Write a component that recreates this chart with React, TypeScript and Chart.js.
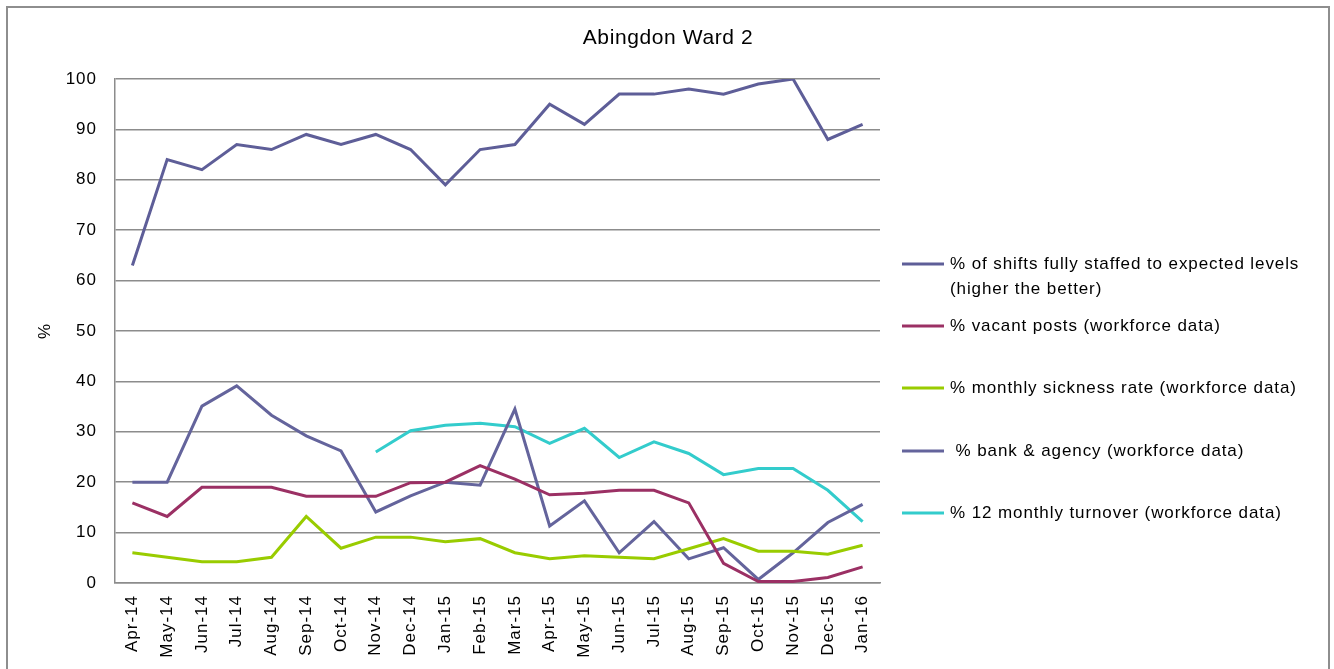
import React, { useEffect, useRef } from "react";
import { Chart, registerables } from "chart.js";

Chart.register(...registerables);

const chartTitle = "Abingdon Ward 2";
const yAxisTitle = "%";

const categories = [
  "Apr-14", "May-14", "Jun-14", "Jul-14", "Aug-14", "Sep-14", "Oct-14", "Nov-14",
  "Dec-14", "Jan-15", "Feb-15", "Mar-15", "Apr-15", "May-15", "Jun-15", "Jul-15",
  "Aug-15", "Sep-15", "Oct-15", "Nov-15", "Dec-15", "Jan-16",
];

const shiftsFullyStaffed = [63, 84, 82, 87, 86, 89, 87, 89, 86, 79, 86, 87, 95, 91, 97, 97, 98, 97, 99, 100, 88, 91];
const vacantPosts = [15.9, 13.2, 19, 19, 19, 17.2, 17.2, 17.2, 19.9, 20, 23.3, 20.6, 17.5, 17.8, 18.4, 18.4, 15.9, 3.9, 0.3, 0.3, 1.1, 3.2];
const sicknessRate = [6, 5.1, 4.2, 4.2, 5.1, 13.2, 6.9, 9.1, 9.1, 8.2, 8.8, 6, 4.8, 5.4, 5.1, 4.8, 6.8, 8.8, 6.3, 6.3, 5.7, 7.5];
const bankAgency = [20, 20, 35.1, 39.1, 33.3, 29.2, 26.2, 14.1, 17.3, 20, 19.4, 34.5, 11.3, 16.3, 6, 12.2, 4.8, 7, 0.7, 6, 12, 15.6];
const turnover = [null, null, null, null, null, null, null, 26, 30.2, 31.3, 31.7, 31, 27.7, 30.7, 24.9, 28, 25.7, 21.5, 22.7, 22.7, 18.4, 12.2];

const yMin = 0;
const yMax = 100;
const yStep = 10;

const seriesLabels = [
  ["% of shifts fully staffed to expected levels", "(higher the better)"],
  ["% vacant posts (workforce data)"],
  ["% monthly sickness rate (workforce data)"],
  [" % bank & agency (workforce data)"],
  ["% 12 monthly turnover (workforce data)"],
];
const seriesColors = ["#5e5e98", "#9b3064", "#99cc00", "#64649c", "#33cccc"];

const FONT = '"Liberation Sans", Arial, sans-serif';
const W = 1334;
const H = 669;

const decorPlugin = {
  id: "decor",
  beforeLayout(chart: any) {
    chart.ctx.letterSpacing = "1px";
  },
  beforeDraw(chart: any) {
    const ctx = chart.ctx;
    ctx.letterSpacing = "1px";
    ctx.save();
    ctx.fillStyle = "#ffffff";
    ctx.fillRect(0, 0, chart.width, chart.height);
    ctx.strokeStyle = "#8e8e8e";
    ctx.lineWidth = 2;
    ctx.strokeRect(7, 7, 1322, 720);
    ctx.restore();
  },
  afterDraw(chart: any) {
    const ctx = chart.ctx;
    ctx.save();
    ctx.letterSpacing = "0.6px";
    ctx.font = `21px ${FONT}`;
    ctx.fillStyle = "#000000";
    ctx.textBaseline = "middle";
    ctx.textAlign = "center";
    ctx.fillText(chartTitle, 668, 38);

    const ys = [264, 326, 388, 451, 513];
    ctx.letterSpacing = "0.9px";
    ctx.font = `17px ${FONT}`;
    ctx.textAlign = "left";
    seriesLabels.forEach((lines, i) => {
      const y = ys[i];
      ctx.strokeStyle = seriesColors[i];
      ctx.lineWidth = 3;
      ctx.beginPath();
      ctx.moveTo(902, y);
      ctx.lineTo(944, y);
      ctx.stroke();
      lines.forEach((t, j) => {
        ctx.fillText(t, 950, y + j * 25);
      });
    });
    ctx.restore();
  },
};

export default function App() {
  const ref = useRef<HTMLCanvasElement | null>(null);

  useEffect(() => {
    document.body.style.margin = "0";
    const canvas = ref.current;
    if (!canvas) return;
    const mk = (label: string, data: (number | null)[], color: string) => ({
      label,
      data,
      borderColor: color,
      backgroundColor: color,
      borderWidth: 3,
      pointRadius: 0,
      pointHoverRadius: 0,
      tension: 0,
      fill: false,
      spanGaps: false,
    });
    const chart = new Chart(canvas, {
      type: "line",
      data: {
        labels: categories,
        datasets: [
          mk(seriesLabels[0].join(" "), shiftsFullyStaffed, seriesColors[0]),
          mk(seriesLabels[1][0], vacantPosts, seriesColors[1]),
          mk(seriesLabels[2][0], sicknessRate, seriesColors[2]),
          mk(seriesLabels[3][0], bankAgency, seriesColors[3]),
          mk(seriesLabels[4][0], turnover, seriesColors[4]),
        ],
      },
      options: {
        responsive: false,
        animation: false,
        devicePixelRatio: 1,
        layout: { padding: { left: 0, right: W - 880, top: 79, bottom: 0 } },
        plugins: {
          legend: { display: false },
          tooltip: { enabled: false },
          title: { display: false },
        },
        scales: {
          x: {
            type: "category",
            offset: true,
            grid: { display: false, drawTicks: false },
            border: { display: true, color: "#8c8c8c", width: 1.5 },
            ticks: {
              color: "#000000",
              font: { family: FONT, size: 17 },
              autoSkip: false,
              maxRotation: 90,
              minRotation: 90,
              padding: 12,
            },
            afterFit(scale: any) {
              scale.height = 86;
            },
          },
          y: {
            min: yMin,
            max: yMax,
            grid: { color: "#8c8c8c", lineWidth: 1.5, drawTicks: false },
            border: { display: true, color: "#8c8c8c", width: 1.5 },
            ticks: {
              stepSize: yStep,
              color: "#000000",
              font: { family: FONT, size: 17 },
              padding: 18,
            },
            title: {
              display: true,
              text: yAxisTitle,
              color: "#000000",
              font: { family: FONT, size: 17 },
              padding: { top: 35, bottom: 0 },
            },
            afterFit(scale: any) {
              scale.width = 115;
            },
          },
        },
      },
      plugins: [decorPlugin],
    });
    return () => chart.destroy();
  }, []);

  return (
    <div style={{ position: "relative", width: W, height: H }}>
      <canvas ref={ref} width={W} height={H} style={{ display: "block" }} />
    </div>
  );
}
